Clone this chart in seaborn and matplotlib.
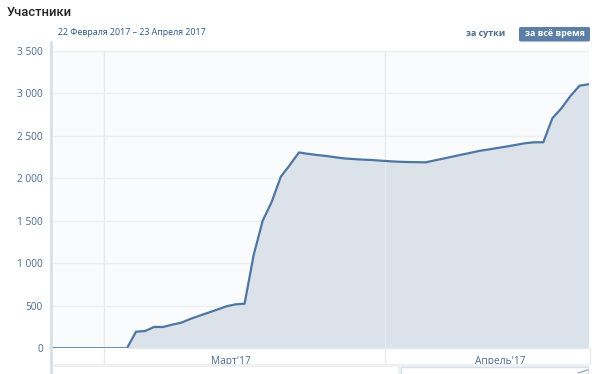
import matplotlib
matplotlib.use("Agg")
import matplotlib.pyplot as plt
import seaborn as sns
import pandas as pd
import numpy as np
from matplotlib.patches import FancyBboxPatch

# ---- data (day index 0 = 22 Feb 2017 ... 60 = 23 Apr 2017) ----
days = list(range(61))
members = [0, 0, 0, 0, 0, 0, 0, 0, 0, 0,
           195, 203, 251, 251, 278, 301, 345, 383, 419, 456,
           494, 517, 525, 1097, 1501, 1724, 2018, 2156, 2303, 2287,
           2273, 2262, 2247, 2233, 2226, 2219, 2215, 2207, 2200, 2194,
           2191, 2189, 2187, 2210, 2232, 2255, 2278, 2300, 2323, 2339,
           2357, 2374, 2393, 2412, 2423, 2423, 2705, 2823, 2967, 3088,
           3105]
yticks = [0, 500, 1000, 1500, 2000, 2500, 3000, 3500]
ytick_labels = ["0", "500", "1 000", "1 500", "2 000", "2 500", "3 000", "3 500"]
month_bounds = [6.5, 37.5]
month_label_pos = [20.5, 50.2]
month_labels = ["Март'17", "Апрель'17"]
title = "Участники"
subtitle = "22 Февраля 2017 – 23 Апреля 2017"
btn1 = "за сутки"
btn2 = "за всё время"

df = pd.DataFrame({"day": days, "members": members})

sns.set_theme(style="white")
plt.rcParams["font.family"] = ["Open Sans", "DejaVu Sans"]

W, H = 600, 374
fig = plt.figure(figsize=(W / 100, H / 100), dpi=100)
fig.patch.set_facecolor("white")

def fx(px):
    return px / W

def fy(py):
    return 1 - py / H

ax_l, ax_r, ax_t, ax_b = 50, 589, 50.7, 348.3
ax = fig.add_axes([fx(ax_l), fy(ax_b), fx(ax_r) - fx(ax_l), fy(ax_t) - fy(ax_b)])
ax.set_facecolor("#fafbfc")

line_c = "#4d76a3"
fill_c = "#dbe2ea"

ax.fill_between(df["day"], df["members"], 0, color=fill_c, zorder=2, linewidth=0)
sns.lineplot(data=df, x="day", y="members", ax=ax, color=line_c, linewidth=1.6, zorder=3)

ax.set_xlim(0.5, 60.05)
ax.set_ylim(0, 3500)
ax.set_yticks(yticks)
ax.set_yticklabels(ytick_labels)
ax.set_xticks([])
ax.set_xlabel("")
ax.set_ylabel("")
ax.grid(axis="y", color="#ebeef2", linewidth=1, zorder=1)
ax.set_axisbelow(True)
for b in month_bounds:
    ax.axvline(b, color="#e6eaef", linewidth=1, zorder=2.5)

ax.tick_params(axis="y", length=0, pad=5, labelsize=7.3, labelcolor="#4a6a8e")
for s in ["top", "right", "bottom", "left"]:
    ax.spines[s].set_visible(False)

# left axis line extends down through the label band
fig.add_artist(plt.Line2D([fx(50.5), fx(50.5)], [fy(42), fy(374)], color="#d8dfe7", linewidth=2, transform=fig.transFigure))
# month boundary lines in the label band
for b in month_bounds:
    xp = ax_l + (b - 0.5) / (60.05 - 0.5) * (ax_r - ax_l)
    fig.add_artist(plt.Line2D([fx(xp), fx(xp)], [fy(348), fy(364)], color="#e6eaef", linewidth=1, transform=fig.transFigure))
fig.add_artist(plt.Line2D([fx(589.5), fx(589.5)], [fy(348), fy(364)], color="#e6eaef", linewidth=1, transform=fig.transFigure))

# month labels
for pos, lab in zip(month_label_pos, month_labels):
    ax.text(pos, -0.027, lab, transform=ax.get_xaxis_transform(), ha="center", va="top",
            fontsize=7.3, color="#4a6a8e")

# navigator strip at bottom
fig.add_artist(plt.Rectangle((fx(51), fy(374)), fx(589) - fx(51), fy(364) - fy(374),
                             facecolor="#eef1f4", edgecolor="none", transform=fig.transFigure))
fig.add_artist(plt.Rectangle((fx(53), fy(374)), fx(398) - fx(53), fy(367) - fy(374),
                             facecolor="white", edgecolor="none", transform=fig.transFigure))
fig.add_artist(plt.Rectangle((fx(401), fy(376)), fx(588) - fx(401), fy(367) - fy(376),
                             facecolor="white", edgecolor="#d8dfe7", linewidth=1, transform=fig.transFigure))
fig.add_artist(plt.Line2D([fx(578), fx(588)], [fy(373), fy(370)], color="#9aaec4", linewidth=1, transform=fig.transFigure))

# header texts
fig.text(fx(7), fy(12), title, fontsize=9.3, fontweight="medium", color="#222222", va="center", ha="left",
         family=["Roboto", "DejaVu Sans"])
fig.text(fx(58), fy(32.5), subtitle, fontsize=6.4, color="#2a5885", va="center", ha="left")
fig.text(fx(505), fy(34), btn1, fontsize=6.4, fontweight="bold", color="#4a6a8e", va="center", ha="right")
fig.add_artist(FancyBboxPatch((fx(519), fy(41.5)), fx(590) - fx(519), fy(27) - fy(41.5),
                              boxstyle="round,pad=0,rounding_size=0.004", facecolor="#5b7fa6",
                              edgecolor="none", transform=fig.transFigure))
fig.text(fx(554.5), fy(34), btn2, fontsize=6.4, fontweight="bold", color="white", va="center", ha="center")

fig.savefig("out.png", dpi=100, facecolor="white")
